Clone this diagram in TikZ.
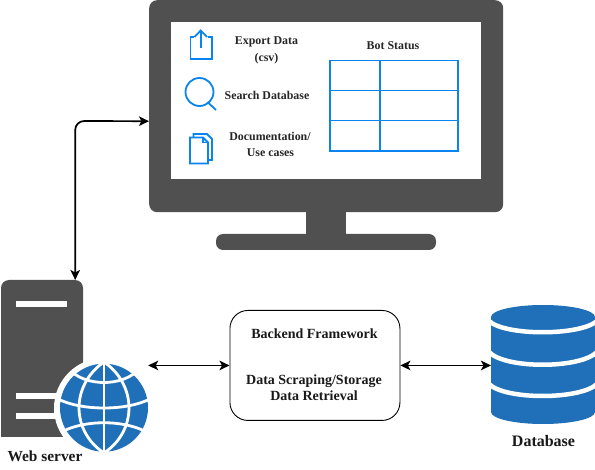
\documentclass[tikz,border=0pt]{standalone}
\usepackage{fontspec}
\setmainfont{Liberation Serif}
\usetikzlibrary{arrows.meta}
\definecolor{dk}{HTML}{505050}
\definecolor{blu}{HTML}{1F70B8}
\definecolor{ico}{HTML}{0A84F0}
\tikzset{
 lbl/.style={font=\fontsize{11.9}{14}\selectfont\bfseries,align=center,inner sep=0pt,text=black!85},
 big/.style={font=\fontsize{14}{16}\selectfont\bfseries,align=center,inner sep=0pt,text=black!90},
 icon/.style={draw=ico,line width=1.8pt,line join=miter},
 conn/.style={line width=1.7pt,{Stealth[length=10pt,width=9.5pt,inset=2.5pt]}-{Stealth[length=10pt,width=9.5pt,inset=2.5pt]},rounded corners=9pt},
 gl/.style={draw=white,line width=2.8pt},
 dbgap/.style={draw=white,line width=4.5pt}
}
\begin{document}
\begin{tikzpicture}[x=1pt,y=-1pt]
\useasboundingbox (0,0) rectangle (595,470);
\fill[white] (0,0) rectangle (595,470);
% monitor
\fill[dk,rounded corners=7pt] (216,234) rectangle (436,250);
\fill[dk] (306,205) rectangle (346,240);
\node[fill=dk,rounded corners=8pt,minimum width=354pt,minimum height=212pt,inner sep=0pt,anchor=north west] (monitor) at (149,0) {};
\node[fill=white,minimum width=310pt,minimum height=157pt,inner sep=0pt,anchor=north west] (screen) at (171,22) {};
% export icon
\draw[icon] (194,37) -- (190.5,37) -- (190.5,59) -- (212,59) -- (212,37) -- (207.5,37);
\draw[icon] (200.7,48) -- (200.7,31);
\draw[icon] (194.5,37) -- (200.7,30.5) -- (207,37);
% search icon
\draw[icon] (199.5,92) circle (14);
\draw[icon] (207.5,102) -- (216,110);
% docs icon
\draw[icon,fill=white] (193.5,134) -- (207,134) -- (212,139) -- (212,160) -- (193.5,160) -- cycle;
\draw[icon,fill=white] (190,137.5) -- (203,137.5) -- (208,142.5) -- (208,163.5) -- (190,163.5) -- cycle;
\draw[icon,line width=1.2pt] (203,137.5) -- (203,142.5) -- (208,142.5);
% labels
\node[lbl] (t1) at (266.5,42) {Export Data};
\node[lbl] (t1b) at (266.5,59) {(csv)};
\node[lbl] (t2) at (267,95) {Search Database};
\node[lbl] (t3) at (270,136) {Documentation/};
\node[lbl] (t3b) at (270.5,153) {Use cases};
\node[lbl] (t4) at (393,46) {Bot Status};
% table
\draw[icon] (330,60.5) rectangle (458,151);
\draw[icon] (380,60.5) -- (380,151);
\draw[icon] (330,90.5) -- (458,90.5);
\draw[icon] (330,120.5) -- (458,120.5);
% server
\fill[dk,rounded corners=8pt] (1,460) -- (1,280) -- (83,280) -- (83,460) -- cycle;
\fill[white] (0,437) rectangle (90,470);
\node[minimum width=82pt,minimum height=157pt,inner sep=0pt,anchor=north west] (server) at (1,280) {};
\fill[white] (16,301) rectangle (67,307);
\fill[white] (16,393) rectangle (67,399);
\fill[white] (16,413) rectangle (67,419);
% globe
\fill[white] (104,408) circle (50);
\node[circle,fill=blu,minimum size=88pt,inner sep=0pt] (globe) at (104,407.7) {};
\begin{scope}
\clip (104,407.7) circle (44.5);
\draw[gl] (104,360) -- (104,456);
\draw[gl] (104,362) .. controls (70.7,385) and (70.7,431) .. (104,453);
\draw[gl] (104,362) .. controls (137.3,385) and (137.3,431) .. (104,453);
\draw[gl] (72,372) .. controls (88,386) and (120,386) .. (136,372);
\draw[gl] (58,399) .. controls (82,411) and (126,411) .. (150,399);
\draw[gl] (58,434) .. controls (82,419) and (126,419) .. (150,434);
\end{scope}
\node[big,font=\fontsize{15.4}{18}\selectfont\bfseries] (ws) at (45,456) {Web server};
% box
\node[draw,line width=0.9pt,rounded corners=18pt,minimum width=170pt,minimum height=110pt,anchor=north west] (box) at (229.5,310) {};
\node[big] (b1) at (314.5,334) {Backend Framework};
\node[big] (b2) at (314,388) {Data Scraping/Storage\\Data Retrieval};
% database
\fill[blu] (491,317) -- (491,412) arc[start angle=180,end angle=0,x radius=52,y radius=12] -- (595,317) arc[start angle=0,end angle=-180,x radius=52,y radius=12] -- cycle;
\draw[dbgap] (489,321) .. controls (505,336) and (580,336) .. (597,321);
\draw[dbgap] (489,352) .. controls (505,369) and (580,369) .. (597,352);
\draw[dbgap] (489,384) .. controls (505,400) and (580,400) .. (597,384);
\node[minimum width=104pt,minimum height=119pt,inner sep=0pt,anchor=north west] (db) at (491,305) {};
\node[big,font=\fontsize{16}{18}\selectfont\bfseries] (dbl) at (543.5,441) {Database};
% connectors
\draw[conn] ([xshift=33pt]server.north) -- ([xshift=33pt,yshift=159pt]server.north) -- ([yshift=-15pt]monitor.west);
\draw[conn,rounded corners=0pt] (globe.east |- box.west) -- (box.west);
\draw[conn,rounded corners=0pt] (box.east) -- (db.west |- box.east);
\end{tikzpicture}
\end{document}
